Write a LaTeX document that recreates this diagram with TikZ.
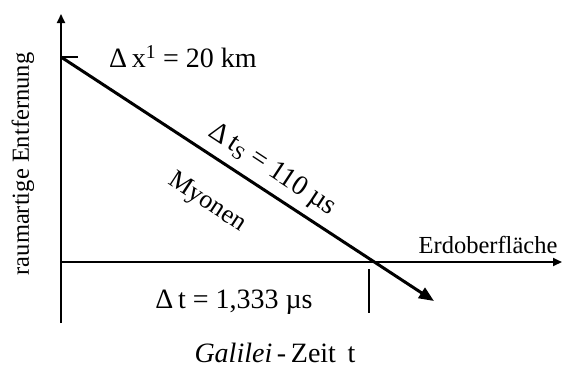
\documentclass[tikz,border=0pt]{standalone}
\usepackage{fontspec}
\setmainfont{Liberation Serif}
\usetikzlibrary{arrows.meta}

\begin{document}
\begin{tikzpicture}[x=1pt, y=-1pt,
    axis/.style={line width=2pt, -{Triangle[length=9pt, width=8pt]}},
    myon/.style={line width=3pt, -{Triangle[length=15pt, width=12pt]}},
    marker/.style={line width=1.8pt},
    lbl/.style={font=\fontsize{28}{32}\selectfont, inner sep=0pt},
    small/.style={font=\fontsize{24.5}{29}\selectfont, inner sep=0pt}
]
\useasboundingbox (0,0) rectangle (563,368);
% axes
\coordinate (origin) at (61,262);
\coordinate (ybottom) at (61,323);
\coordinate (ytop) at (61,14);
\coordinate (xend) at (562,262);
\coordinate (start) at (61,57);
\coordinate (starttick) at (78,57);
\coordinate (hit) at (369,262);
\coordinate (hittop) at (369,269);
\coordinate (hitbottom) at (369,313);
\coordinate (myonend) at (434,301);
\draw[axis] (ybottom) -- (ytop);
\draw[axis] (origin) -- (xend);
\draw[marker] (start) -- (starttick);
\draw[marker] (hittop) -- (hitbottom);
\draw[myon] (start) -- (myonend);
% labels
\node[lbl] (dx) at (183,57) {Δ\,x\textsuperscript{1} = 20 km};
\node[lbl, rotate=-33.3] (dts) at (272,170) {Δ\,t\textsubscript{S} = 110 µs};
\node[lbl, font=\fontsize{26}{30}\selectfont, rotate=-33.3] (myonen) at (207,203) {Myonen};
\node[small] (erde) at (488,245) {Erdoberfläche};
\node[lbl] (dt) at (234,302) {Δ\,t = 1,333 µs};
\node[lbl] (zeit) at (275,353) {\textit{Galilei}\,-\,Zeit\, t};
\node[small, font=\fontsize{24.5}{28}\selectfont, rotate=90] (raum) at (23,164) {raumartige Entfernung};
\end{tikzpicture}
\end{document}
